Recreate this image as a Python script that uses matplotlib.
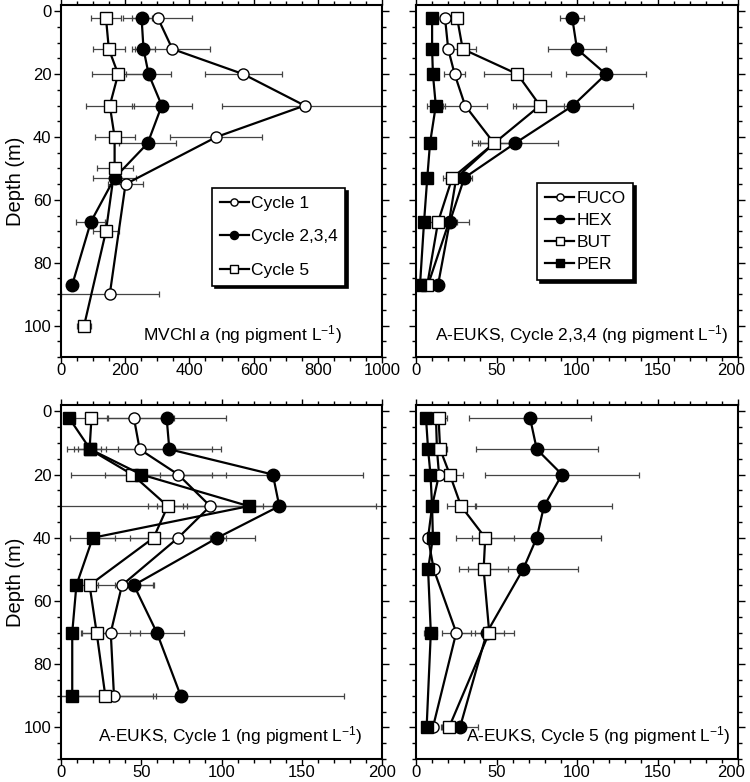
import matplotlib
matplotlib.use("Agg")
import matplotlib.pyplot as plt
from matplotlib.ticker import MultipleLocator
from matplotlib.transforms import ScaledTranslation

plt.rcParams['font.family'] = ['Liberation Sans', 'DejaVu Sans']
plt.rcParams['mathtext.fontset'] = 'custom'
plt.rcParams['mathtext.rm'] = 'Liberation Sans'
plt.rcParams['mathtext.it'] = 'Liberation Sans:italic'
plt.rcParams['font.size'] = 12

# MVChl a panel (ng pigment / L)
c1_depth = [2, 12, 20, 30, 40, 55, 90]
c1_val = [301, 347, 568, 759, 484, 201, 152]
c1_err = [108, 118, 120, 257, 143, 56, 153]
c234_depth = [2, 12, 20, 30, 42, 53, 67, 87]
c234_val = [251, 257, 273, 314, 270, 167, 93, 35]
c234_err = [31, 37, 71, 93, 89, 67, 45, 0]
c5_depth = [2, 12, 20, 30, 40, 50, 70, 100]
c5_val = [140, 149, 178, 152, 167, 167, 140, 72]
c5_err = [48, 49, 82, 74, 62, 56, 40, 23]

# A-EUKS, cycle 2,3,4
tr_depth = [2, 12, 20, 30, 42, 53, 67, 87]
tr_fuco = [18, 20, 24, 30.5, 48.5, 25, 20.5, 7.5]
tr_fuco_err = [3, 3, 6.5, 13.5, 10, 8, 5, 2]
tr_hex = [97, 100, 118, 97.5, 61.5, 30, 21, 13.7]
tr_hex_err = [7.5, 18, 25, 37, 27, 5, 12, 2]
tr_but = [25.5, 29, 63, 77, 48.5, 22.5, 13.7, 7]
tr_but_err = [2, 8, 21, 15, 9, 4, 3, 1]
tr_per = [10, 10, 10.5, 12.3, 8.7, 7, 5, 2.5]
tr_per_err = [1, 1, 1, 5.5, 1, 1, 1, 1]

# A-EUKS, cycle 1
bl_depth = [2, 12, 20, 30, 40, 55, 70, 90]
bl_fuco = [45.4, 49, 73, 93, 73, 38, 31, 33]
bl_fuco_err = [25, 45, 30, 33, 30, 20, 18, 26]
bl_hex = [65.8, 67.5, 132, 136, 97.5, 45.4, 59.7, 74.6]
bl_hex_err = [37, 32, 56, 60, 23.5, 12, 17, 102]
bl_but = [19, 17.8, 44.4, 66.5, 57.7, 17.8, 22.2, 27.6]
bl_but_err = [10, 7, 17, 12, 35, 5, 10, 30]
bl_per = [4.9, 18.2, 50, 117, 19.8, 9.6, 7, 7]
bl_per_err = [3, 10, 44, 120, 14, 3, 2, 2]

# A-EUKS, cycle 5
br_depth = [2, 12, 20, 30, 40, 50, 70, 100]
br_fuco = [12.4, 13, 14.3, 10, 7.5, 11, 25, 10.5]
br_fuco_err = [3, 3, 3, 3, 3, 3, 9, 3]
br_hex = [70.8, 75, 90.7, 79.5, 75, 66.5, 44, 27.3]
br_hex_err = [38, 38, 48, 42, 40, 34, 17, 11]
br_but = [14, 15, 21, 28, 43, 42, 45.5, 20.5]
br_but_err = [5, 4, 8, 8.5, 18, 15, 9, 5]
br_per = [6.2, 7.5, 9, 10, 10.5, 7.5, 9.2, 6.6]
br_per_err = [2, 2, 2, 3, 2, 2, 4, 2]

styles = {
    'oc': dict(marker='o', mfc='white', mec='black', ms=8),
    'fc': dict(marker='o', mfc='black', mec='black', ms=9),
    'os': dict(marker='s', mfc='white', mec='black', ms=8),
    'fs': dict(marker='s', mfc='black', mec='black', ms=9),
}


def serie(ax, x, y, err, st, label):
    ax.errorbar(x, y, xerr=err, fmt='none', ecolor='#444444', elinewidth=0.9,
                capsize=2.5, capthick=0.9, zorder=1)
    ax.plot(x, y, color='black', lw=1.6, label=label, mew=1.0, zorder=3,
            **styles[st])


def ejes(ax, xmax, xmaj, xmin, ylabels=True):
    ax.set_xlim(0, xmax)
    ax.set_ylim(110, -2)
    ax.xaxis.set_major_locator(MultipleLocator(xmaj))
    ax.xaxis.set_minor_locator(MultipleLocator(xmin))
    ax.yaxis.set_major_locator(MultipleLocator(20))
    ax.yaxis.set_minor_locator(MultipleLocator(5))
    ax.tick_params(which='both', direction='out', top=True, right=True,
                   width=1.0, labelsize=12, pad=2)
    ax.tick_params(which='major', length=5)
    ax.tick_params(which='minor', length=3)
    ax.tick_params(axis='x', which='major', length=4, pad=0.5)
    for s in ax.spines.values():
        s.set_linewidth(1.5)
    if ylabels:
        ax.set_ylabel('Depth (m)', fontsize=14.5)
        ax.yaxis.set_label_coords(-0.112, 0.5)
    else:
        ax.set_yticklabels([])


fig = plt.figure(figsize=(7.5, 7.82), dpi=100)
ax_tl = fig.add_axes([61 / 750, 1 - 357 / 782, 321 / 750, 352 / 782])
ax_tr = fig.add_axes([416 / 750, 1 - 357 / 782, 322 / 750, 352 / 782])
ax_bl = fig.add_axes([61 / 750, 1 - 759 / 782, 321 / 750, 354 / 782])
ax_br = fig.add_axes([416 / 750, 1 - 759 / 782, 322 / 750, 354 / 782])

leg_kw = dict(frameon=True, fancybox=False, edgecolor='black', framealpha=1,
              shadow={'color': 'black', 'alpha': 1}, markerscale=0.65,
              handlelength=1.7, handletextpad=0.1, borderpad=0.45,
              borderaxespad=0, fontsize=12.5)

# top left
serie(ax_tl, c1_val, c1_depth, c1_err, 'oc', 'Cycle 1')
serie(ax_tl, c234_val, c234_depth, c234_err, 'fc', 'Cycle 2,3,4')
serie(ax_tl, c5_val, c5_depth, c5_err, 'os', 'Cycle 5')
ejes(ax_tl, 1000, 200, 50)
lg = ax_tl.legend(loc='upper left', bbox_to_anchor=(0.47, 0.48),
                  labelspacing=1.05, **leg_kw)
lg.get_frame().set_linewidth(1.2)
ax_tl.text(0.875, 0.03, 'MVChl $a$ (ng pigment L$^{-1}$)', transform=ax_tl.transAxes,
           ha='right', va='bottom', fontsize=12.5)

# top right
serie(ax_tr, tr_fuco, tr_depth, tr_fuco_err, 'oc', 'FUCO')
serie(ax_tr, tr_hex, tr_depth, tr_hex_err, 'fc', 'HEX')
serie(ax_tr, tr_but, tr_depth, tr_but_err, 'os', 'BUT')
serie(ax_tr, tr_per, tr_depth, tr_per_err, 'fs', 'PER')
ejes(ax_tr, 200, 50, 10, ylabels=False)
lg = ax_tr.legend(loc='upper left', bbox_to_anchor=(0.376, 0.494),
                  labelspacing=0.4, **leg_kw)
lg.get_frame().set_linewidth(1.2)
ax_tr.text(0.972, 0.03, 'A-EUKS, Cycle 2,3,4 (ng pigment L$^{-1}$)',
           transform=ax_tr.transAxes, ha='right', va='bottom', fontsize=12.5)

# bottom left
serie(ax_bl, bl_fuco, bl_depth, bl_fuco_err, 'oc', 'FUCO')
serie(ax_bl, bl_hex, bl_depth, bl_hex_err, 'fc', 'HEX')
serie(ax_bl, bl_but, bl_depth, bl_but_err, 'os', 'BUT')
serie(ax_bl, bl_per, bl_depth, bl_per_err, 'fs', 'PER')
ejes(ax_bl, 200, 50, 10)
ax_bl.text(0.94, 0.035, 'A-EUKS, Cycle 1 (ng pigment L$^{-1}$)',
           transform=ax_bl.transAxes, ha='right', va='bottom', fontsize=12.5)

# bottom right
serie(ax_br, br_fuco, br_depth, br_fuco_err, 'oc', 'FUCO')
serie(ax_br, br_hex, br_depth, br_hex_err, 'fc', 'HEX')
serie(ax_br, br_but, br_depth, br_but_err, 'os', 'BUT')
serie(ax_br, br_per, br_depth, br_per_err, 'fs', 'PER')
ejes(ax_br, 200, 50, 10, ylabels=False)
ax_br.text(0.978, 0.035, 'A-EUKS, Cycle 5 (ng pigment L$^{-1}$)',
           transform=ax_br.transAxes, ha='right', va='bottom', fontsize=12.5)

# el "200" del borde derecho se corre un poco a la izquierda, como en el original
fig.canvas.draw()
for ax in (ax_tr, ax_br):
    for tick in ax.xaxis.get_major_ticks():
        if abs(tick.get_loc() - 200) < 1e-6:
            lab = tick.label1
            lab.set_transform(lab.get_transform()
                              + ScaledTranslation(-5 / 72, 0, fig.dpi_scale_trans))

fig.savefig('out.png', dpi=100)
